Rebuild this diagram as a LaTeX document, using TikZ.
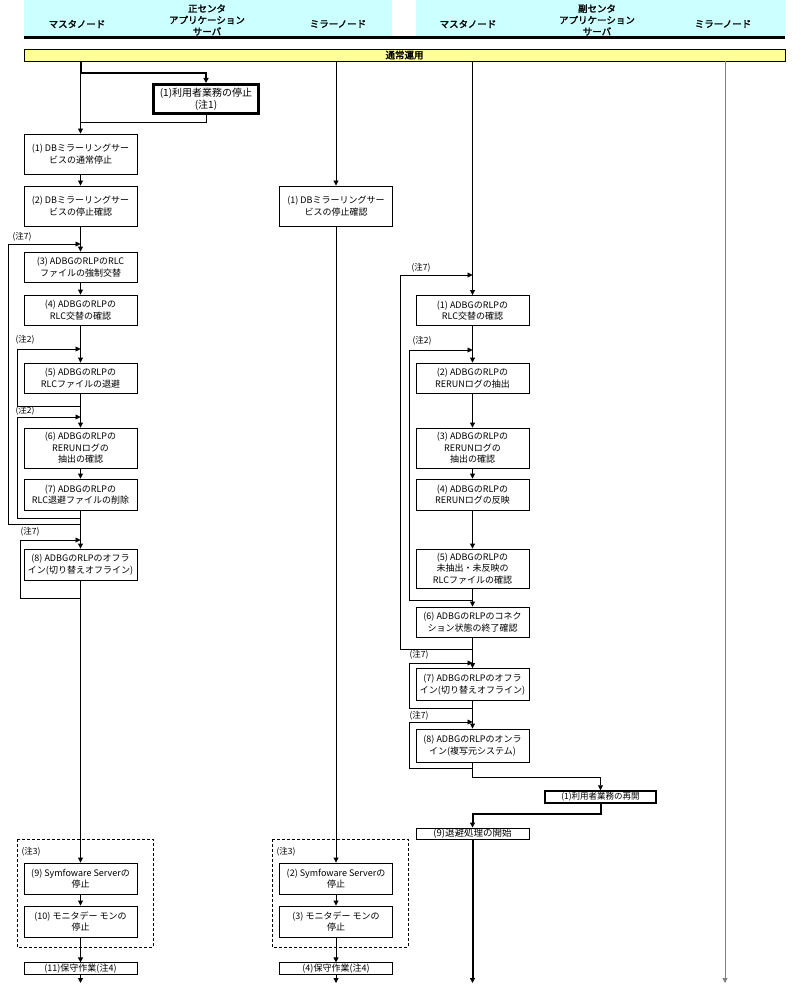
\documentclass[tikz,border=0pt]{standalone}
\usepackage{fontspec}
\setmainfont{Noto Sans CJK JP}[AutoFakeBold=2]
\usepackage{tikz}
\usetikzlibrary{arrows.meta}
\definecolor{headbg}{HTML}{CCFFFF}
\definecolor{barbg}{HTML}{FFFF99}

\begin{document}
\begin{tikzpicture}[x=1pt,y=-1pt,
    box/.style={draw,line width=0.9pt,minimum width=113pt,inner sep=1pt,align=center,font=\fontsize{9}{11.5}\selectfont},
    bigbox/.style={box,line width=3pt,font=\fontsize{10}{12}\selectfont},
    note/.style={inner sep=0pt,font=\fontsize{8.5}{10}\selectfont},
    head/.style={align=center,inner sep=0pt,font=\fontsize{9.5}{11.5}\selectfont\bfseries},
    flow/.style={line width=0.9pt,-{Triangle[length=5pt,width=5pt]}},
    heavy/.style={line width=2pt},
    grp/.style={line width=0.8pt,dash pattern=on 3pt off 2pt}]
  \useasboundingbox (0,0) rectangle (800,984);
  % header
  \fill[headbg] (24,0) rectangle (392,36);
  \fill[headbg] (416,0) rectangle (785,36);
  \draw[line width=3pt] (24,37.5) -- (785,37.5);
  \node[head] (hML) at (77,24) {マスタノード};
  \node[head] (hAL) at (207,20) {正センタ\\アプリケーション\\サーバ};
  \node[head] (hSL) at (338,24) {ミラーノード};
  \node[head] (hMR) at (468,24) {マスタノード};
  \node[head] (hAR) at (597,20) {副センタ\\アプリケーション\\サーバ};
  \node[head] (hSR) at (723,24) {ミラーノード};
  \node[draw,fill=barbg,line width=0.9pt,minimum width=761pt,minimum height=12pt,inner sep=0pt,
    font=\fontsize{9.5}{10}\selectfont\bfseries] (bar) at (404.5,55) {通常運用};

  % master node (main center)
  \node[bigbox,minimum width=105pt,minimum height=29pt] (U1) at (206,99) {(1)利用者業務の停止\\(注1)};
  \node[box,minimum height=40pt] (L1) at (80.5,154) {(1) DBミラーリングサー\\ビスの通常停止};
  \node[box,minimum height=40pt] (L2) at (80.5,206) {(2) DBミラーリングサー\\ビスの停止確認};
  \node[box,minimum height=30pt] (L3) at (80.5,267) {(3) ADBGのRLPのRLC\\ファイルの強制交替};
  \node[box,minimum height=30pt] (L4) at (80.5,310) {(4) ADBGのRLPの\\RLC交替の確認};
  \node[box,minimum height=30pt] (L5) at (80.5,378) {(5) ADBGのRLPの\\RLCファイルの退避};
  \node[box,minimum height=40pt] (L6) at (80.5,448) {(6) ADBGのRLPの\\RERUNログの\\抽出の確認};
  \node[box,minimum height=31pt] (L7) at (80.5,494.5) {(7) ADBGのRLPの\\RLC退避ファイルの削除};
  \node[box,minimum height=31pt] (L8) at (80.5,564.5) {(8) ADBGのRLPのオフラ\\イン(切り替えオフライン)};
  \node[box,minimum height=31pt] (L9) at (80.5,878.5) {(9) Symfoware Serverの\\停止};
  \node[box,minimum height=31pt] (L10) at (80.5,921.5) {(10) モニタデー モンの\\停止};
  \node[box,minimum height=11pt] (L11) at (80.5,968.5) {(11)保守作業(注4)};
  \node[note] (nL7a) at (22,237) {(注7)};
  \node[note] (nL2a) at (25,340) {(注2)};
  \node[note] (nL2b) at (25,411) {(注2)};
  \node[note] (nL7b) at (30,532) {(注7)};
  \node[note] (nL3) at (31,852) {(注3)};
  \draw[grp] (17,839) rectangle (153,947);

  % mirror node (main center)
  \node[box,minimum height=40pt] (M1) at (336,206) {(1) DBミラーリングサー\\ビスの停止確認};
  \node[box,minimum height=31pt] (M2) at (336,878.5) {(2) Symfoware Serverの\\停止};
  \node[box,minimum height=31pt] (M3) at (336,921.5) {(3) モニタデー モンの\\停止};
  \node[box,minimum height=11pt] (M4) at (336,968.5) {(4)保守作業(注4)};
  \node[note] (nM3) at (286,852) {(注3)};
  \draw[grp] (272,839) rectangle (408,947);

  % master node (sub center)
  \node[box,minimum height=30pt] (R1) at (472.5,310.5) {(1) ADBGのRLPの\\RLC交替の確認};
  \node[box,minimum height=30pt] (R2) at (472.5,378) {(2) ADBGのRLPの\\RERUNログの抽出};
  \node[box,minimum height=40pt] (R3) at (472.5,448) {(3) ADBGのRLPの\\RERUNログの\\抽出の確認};
  \node[box,minimum height=31pt] (R4) at (472.5,494.5) {(4) ADBGのRLPの\\RERUNログの反映};
  \node[box,minimum height=39pt] (R5) at (472.5,568.5) {(5) ADBGのRLPの\\未抽出・未反映の\\RLCファイルの確認};
  \node[box,minimum height=30pt] (R6) at (472.5,622) {(6) ADBGのRLPのコネク\\ション状態の終了確認};
  \node[box,minimum height=32pt] (R7) at (472.5,684.5) {(7) ADBGのRLPのオフラ\\イン(切り替えオフライン)};
  \node[box,minimum height=33pt] (R8) at (472.5,745.5) {(8) ADBGのRLPのオンラ\\イン(複写元システム)};
  \node[bigbox,line width=2pt,minimum width=111pt,minimum height=11.5pt,inner sep=0pt,
    font=\fontsize{8.5}{10}\selectfont] (U2) at (600.5,797) {(1)利用者業務の再開};
  \node[box,minimum height=11pt,inner sep=0pt,font=\fontsize{9.5}{10}\selectfont] (R9) at (472.5,833.5) {(9)退避処理の開始};
  \node[note] (nR7a) at (421,268) {(注7)};
  \node[note] (nR2) at (422,341) {(注2)};
  \node[note] (nR7b) at (419,655) {(注7)};
  \node[note] (nR7c) at (419,716) {(注7)};

  % end points and joints
  \coordinate (t0) at (80.5,73);
  \coordinate (t1) at (80.5,122);
  \coordinate (aL7a) at (80.5,244);  \coordinate (bL7a) at (80.5,524);
  \coordinate (aL2a) at (80.5,349);  \coordinate (bL2a) at (80.5,406);
  \coordinate (aL2b) at (80.5,417);  \coordinate (bL2b) at (80.5,518);
  \coordinate (aL7b) at (80.5,540);  \coordinate (bL7b) at (80.5,598);
  \coordinate (aR7a) at (472.5,275); \coordinate (bR7a) at (472.5,649);
  \coordinate (aR2) at (472.5,350);  \coordinate (bR2) at (472.5,600);
  \coordinate (aR7b) at (472.5,663); \coordinate (bR7b) at (472.5,708);
  \coordinate (aR7c) at (472.5,722); \coordinate (bR7c) at (472.5,768);
  \coordinate (r0) at (472.5,777);
  \coordinate (r1) at (472.5,814);
  \coordinate (endL) at (80.5,983);
  \coordinate (endM) at (336,983);
  \coordinate (endR) at (472.5,983);
  \coordinate (endS) at (725,983);

  % flow of master node (main center)
  \draw[heavy] (L1 |- bar.south) -- (t0);
  \draw[flow,heavy] (t0) -| (U1);
  \draw[line width=0.9pt] (U1.south) |- (t1);
  \draw[flow] (t0) -- (L1);
  \draw[flow] (L1) -- (L2);
  \draw[flow] (L2) -- (L3);
  \draw[flow] (L3) -- (L4);
  \draw[flow] (L4) -- (L5);
  \draw[flow] (L5) -- (L6);
  \draw[flow] (L6) -- (L7);
  \draw[flow] (L7) -- (L8);
  \draw[flow] (L8) -- (L9);
  \draw[flow] (L9) -- (L10);
  \draw[flow] (L10) -- (L11);
  \draw[flow] (L11) -- (endL);
  % loops
  \draw[flow] (bL7a) -- ++(-72.5,0) |- (aL7a);
  \draw[flow] (bL2a) -- ++(-63.5,0) |- (aL2a);
  \draw[flow] (bL2b) -- ++(-63.5,0) |- (aL2b);
  \draw[flow] (bL7b) -- ++(-60.5,0) |- (aL7b);

  % flow of mirror node (main center)
  \draw[flow] (M1 |- bar.south) -- (M1);
  \draw[flow] (M1) -- (M2);
  \draw[flow] (M2) -- (M3);
  \draw[flow] (M3) -- (M4);
  \draw[flow] (M4) -- (endM);

  % flow of master node (sub center)
  \draw[flow] (R1 |- bar.south) -- (R1);
  \draw[flow] (R1) -- (R2);
  \draw[flow] (R2) -- (R3);
  \draw[flow] (R3) -- (R4);
  \draw[flow] (R4) -- (R5);
  \draw[flow] (R5) -- (R6);
  \draw[flow] (R6) -- (R7);
  \draw[flow] (R7) -- (R8);
  \draw[flow] (R8) -- (r0) -| (U2);
  \draw[flow,heavy] (U2.south) |- (r1) -- (R9);
  \draw[flow,heavy] (R9) -- (endR);
  % loops
  \draw[flow] (bR7a) -- ++(-72.5,0) |- (aR7a);
  \draw[flow] (bR2) -- ++(-63.5,0) |- (aR2);
  \draw[flow] (bR7b) -- ++(-63.5,0) |- (aR7b);
  \draw[flow] (bR7c) -- ++(-63.5,0) |- (aR7c);

  % mirror node (sub center)
  \draw[flow,gray] (endS |- bar.south) -- (endS);
\end{tikzpicture}
\end{document}
